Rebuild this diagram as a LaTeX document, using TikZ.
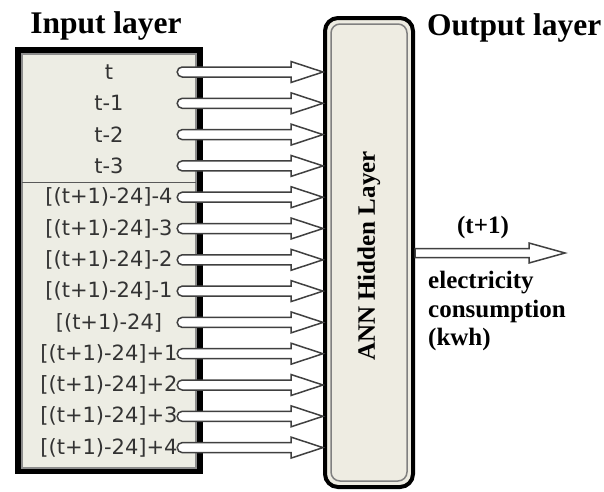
\documentclass[tikz,border=0pt]{standalone}
\usepackage{fontspec}
\setmainfont{Liberation Serif}
\newfontfamily\labfont{DejaVu Sans}
\usetikzlibrary{calc}
\definecolor{boxfill}{HTML}{EDEDE4}
\definecolor{hidfill}{HTML}{EEECE2}
\begin{document}
\begin{tikzpicture}[x=1pt,y=-1pt,
  title/.style={font=\fontsize{31.5}{33}\selectfont\bfseries, inner sep=0pt},
  rowlab/.style={font=\labfont\fontsize{21}{22}\selectfont, text=black!80, minimum width=146pt, inner sep=0pt, align=center},
  hollow/.style={draw=black!75, line width=1.5pt, fill=white, line join=miter,
    to path={let \p1=(\tikztostart), \p2=(\tikztotarget) in
      (\x1,\y1+5pt) -- (\x2-32pt,\y1+5pt) -- (\x2-32pt,\y1+10.5pt) -- (\x2,\y1)
      -- (\x2-32pt,\y1-10.5pt) -- (\x2-32pt,\y1-5pt) -- (\x1,\y1-5pt)
      arc[start angle=270,end angle=90,radius=5pt] -- cycle}},
  hollowout/.style={draw=black!75, line width=1.5pt, fill=white, line join=miter,
    to path={let \p1=(\tikztostart), \p2=(\tikztotarget) in
      (\x1,\y1+4.5pt) -- (\x2-36pt,\y1+4.5pt) -- (\x2-36pt,\y1+10pt) -- (\x2,\y1)
      -- (\x2-36pt,\y1-10pt) -- (\x2-36pt,\y1-4.5pt) -- (\x1,\y1-4.5pt) -- cycle}},
  hiddenbox/.style={draw=black, line width=4pt, fill=hidfill, rounded corners=13pt,
    minimum width=88pt, minimum height=469pt, inner sep=0pt},
  outlab/.style={font=\fontsize{25}{28.5}\selectfont\bfseries, inner sep=0pt}
]
\useasboundingbox (0,0) rectangle (604,491);

% titles
\node[title, anchor=base] (tin) at (106,33) {Input layer};
\node[title, anchor=base west] (tout) at (427,35) {Output layer};

% input box
\fill[black] (15,47) rectangle (203,474);
\draw[fill=boxfill, draw=black!45, line width=1.2pt] (22,54) rectangle (196,468);
\draw[black!65, line width=1.2pt] (22,182.5) -- (196,182.5);

% hidden layer box
\node[hiddenbox] (hidden) at (369,252.5) {};
\draw[black!50, line width=1.5pt, rounded corners=9pt] (331,24) rectangle (407,481);
\node[rotate=90, font=\fontsize{25}{27}\selectfont\bfseries, inner sep=0pt] (hlab) at (369,256) {ANN Hidden Layer};

% rows and arrows
\foreach \lab [count=\i from 0] in {{t},{t-1},{t-2},{t-3},{[(t+1)-24]-4},{[(t+1)-24]-3},{[(t+1)-24]-2},{[(t+1)-24]-1},{[(t+1)-24]},{[(t+1)-24]+1},{[(t+1)-24]+2},{[(t+1)-24]+3},{[(t+1)-24]+4}}{
  \node[rowlab] (r\i) at (109,72+31.3*\i) {\lab};
  \draw[hollow] (r\i.east) to (hidden.west |- r\i.east);
}

% output
\coordinate (outtip) at (565,253);
\draw[hollowout] (hidden.east |- outtip) to (outtip);
\node[outlab] (tp1) at (483,227) {(t+1)};
\node[outlab, anchor=north west, align=left] (elab) at (428,271) {electricity\\consumption\\(kwh)};
\end{tikzpicture}
\end{document}
